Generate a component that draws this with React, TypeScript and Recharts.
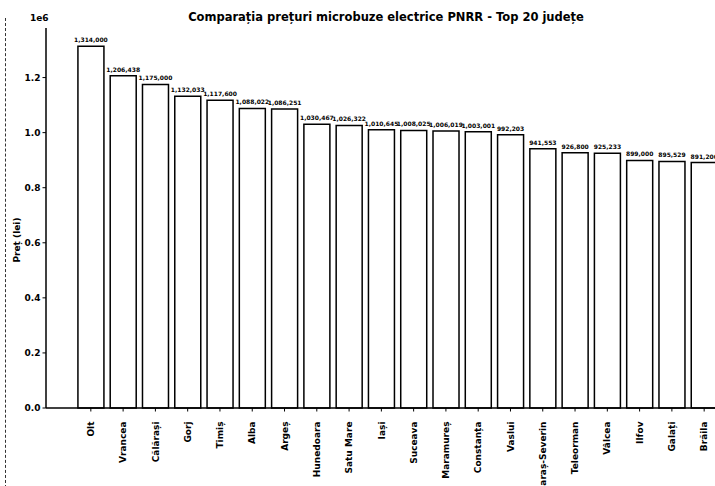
import { BarChart, Bar, XAxis, YAxis, LabelList } from 'recharts';

const judete = [
  'Olt', 'Vrancea', 'Călărași', 'Gorj', 'Timiș', 'Alba', 'Argeș', 'Hunedoara', 'Satu Mare', 'Iași',
  'Suceava', 'Maramureș', 'Constanța', 'Vaslui', 'Caraș-Severin', 'Teleorman', 'Vâlcea', 'Ilfov', 'Galați', 'Brăila',
];
const preturi = [
  1314000, 1206438, 1175000, 1132033, 1117600, 1088022, 1086251, 1030467, 1026322, 1010645,
  1008025, 1006019, 1003001, 992203, 941553, 926800, 925233, 899000, 895529, 891200,
];
const yTicks = [0, 200000, 400000, 600000, 800000, 1000000, 1200000];

const data = judete.map((name, i) => ({ name, pret: preturi[i] }));

const FONT = '"DejaVu Sans", sans-serif';

function fmt(v: number) {
  return Math.round(v).toString().replace(/\B(?=(\d{3})+(?!\d))/g, ',');
}

function XTick(props: any) {
  const { x, y, payload } = props;
  return (
    <g transform={`translate(${x},${y})`}>
      <text
        transform="rotate(-90)"
        x={-8}
        y={0}
        dy="0.35em"
        textAnchor="end"
        fontSize={9}
        fontWeight="bold"
        fontFamily={FONT}
        fill="#000"
      >
        {payload.value}
      </text>
    </g>
  );
}

export default function App() {
  return (
    <div
      style={{
        position: 'absolute',
        left: 0,
        top: 0,
        width: 715,
        height: 486,
        overflow: 'hidden',
        background: '#fff',
        fontFamily: FONT,
      }}
    >
      <div
        style={{
          position: 'absolute',
          left: 5,
          top: 18,
          height: 470,
          borderLeft: '1.5px dashed #333',
        }}
      />
      <div
        style={{
          position: 'absolute',
          left: 0,
          width: 772,
          top: 10,
          textAlign: 'center',
          fontSize: 11.5,
          fontWeight: 'bold',
          color: '#000',
        }}
      >
        Comparația prețuri microbuze electrice PNRR - Top 20 județe
      </div>
      <div
        style={{
          position: 'absolute',
          left: 30,
          top: 13,
          fontSize: 9,
          fontWeight: 'bold',
        }}
      >
        1e6
      </div>
      <div
        style={{
          position: 'absolute',
          left: 17,
          top: 240,
          transform: 'translate(-50%, -50%) rotate(-90deg)',
          fontSize: 9,
          fontWeight: 'bold',
          whiteSpace: 'nowrap',
        }}
      >
        Preț (lei)
      </div>
      <div style={{ position: 'absolute', left: 0, top: 0 }}>
        <BarChart
          width={749}
          height={486}
          data={data}
          margin={{ top: 28, right: 0, left: 0, bottom: 0 }}
          barCategoryGap="10%"
        >
          <XAxis
            dataKey="name"
            interval={0}
            height={78}
            padding={{ left: 28.7, right: 28.7 }}
            tick={<XTick />}
            tickSize={3.5}
            axisLine={{ stroke: '#000', strokeWidth: 1.5 }}
            tickLine={{ stroke: '#000', strokeWidth: 1 }}
          />
          <YAxis
            width={46}
            domain={[0, 1380000]}
            ticks={yTicks}
            tickFormatter={(v: number) => (v / 1000000).toFixed(1)}
            tick={{ fontSize: 9, fill: '#000', fontWeight: 'bold', fontFamily: FONT }}
            tickSize={3.5}
            axisLine={{ stroke: '#000', strokeWidth: 1.5 }}
            tickLine={{ stroke: '#000', strokeWidth: 1 }}
          />
          <Bar dataKey="pret" fill="#fff" stroke="#000" strokeWidth={1.5} isAnimationActive={false}>
            <LabelList
              dataKey="pret"
              position="top"
              offset={4}
              formatter={(v: any) => fmt(Number(v))}
              style={{ fontSize: 6, fill: '#000', fontWeight: 'bold', fontFamily: FONT }}
            />
          </Bar>
        </BarChart>
      </div>
    </div>
  );
}
